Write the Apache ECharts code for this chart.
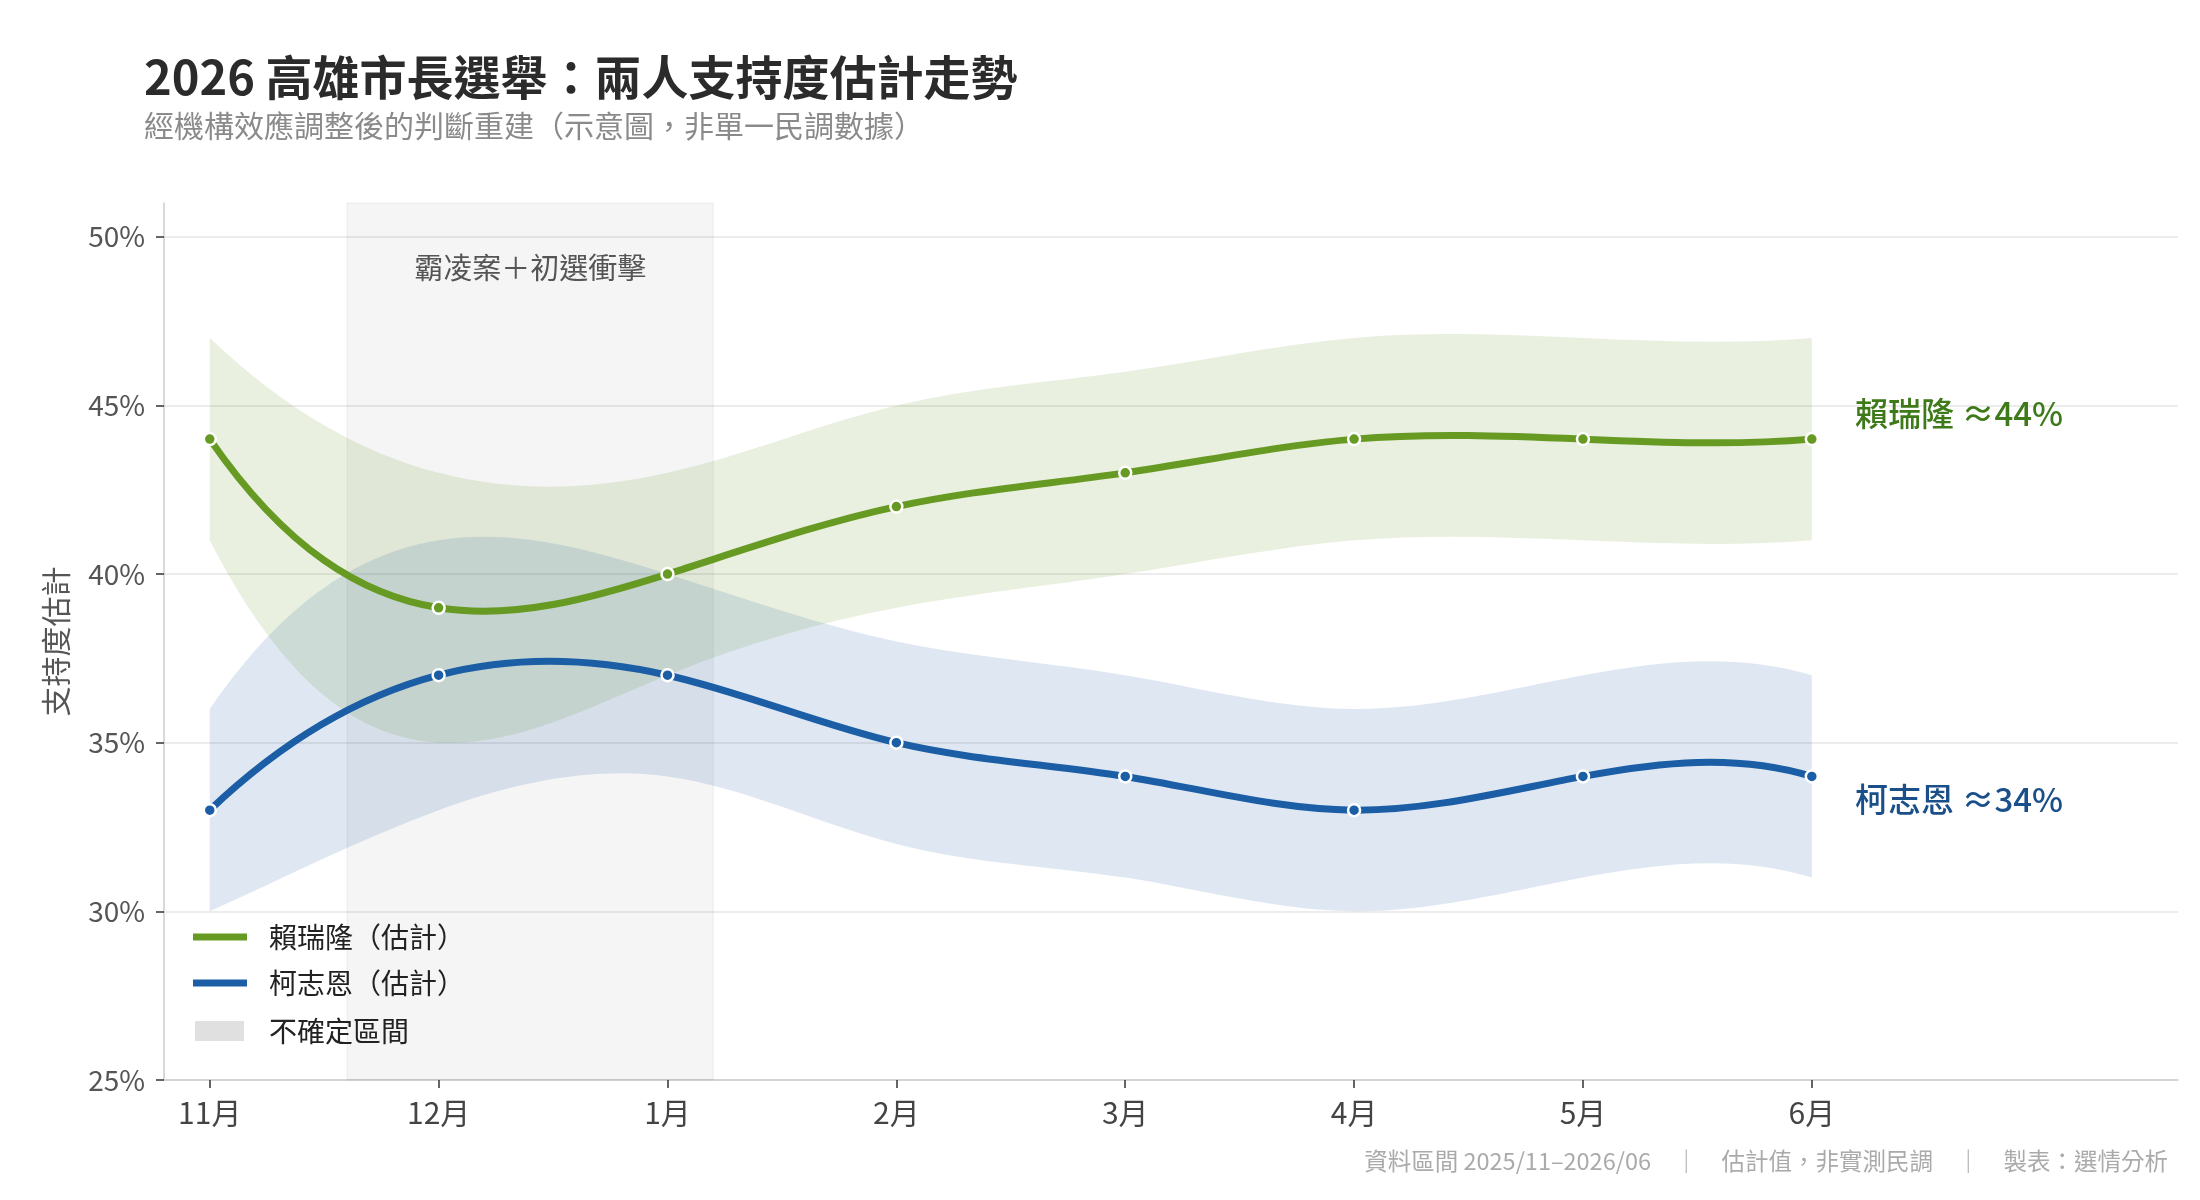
<!DOCTYPE html>
<html>
<head>
<meta charset="utf-8">
<title>2026 高雄市長選舉：兩人支持度估計走勢</title>
<script src="https://cdn.jsdelivr.net/npm/echarts@6/dist/echarts.min.js"></script>
<style>
  html, body { margin: 0; padding: 0; background: #fff; }
  #chart { width: 2200px; height: 1200px; }
</style>
</head>
<body>
<div id="chart"></div>
<script>
// 月份與估計值
const months = ['11月', '12月', '1月', '2月', '3月', '4月', '5月', '6月']
const laiValues = [44, 39, 40, 42, 43, 44, 44, 44]
const koValues = [33, 37, 37, 35, 34, 33, 34, 34]
// 不確定區間上下界
const laiLower = [41, 35, 37, 39, 40, 41, 41, 41]
const laiUpper = [47, 43, 43, 45, 46, 47, 47, 47]
const koLower = [30, 33, 34, 32, 31, 30, 31, 31]
const koUpper = [36, 41, 40, 38, 37, 36, 37, 37]
const yTicks = [25, 30, 35, 40, 45, 50]
const shockSpan = [0.6, 2.2]

const FONT = '"Noto Sans CJK TC", "Noto Sans", sans-serif'
const GREEN = '#679a23'
const BLUE = '#1b5ea6'

const xIdx = months.map((m, i) => i)
const pairs = (vals) => vals.map((v, i) => [i, v])

// cubic spline (not-a-knot) slopes at each point, used only for the curve shape
function splineSlopes(y) {
  const n = y.length
  const A = Array.from({ length: n }, () => new Array(n).fill(0))
  const b = new Array(n).fill(0)
  A[0][0] = 1; A[0][1] = -2; A[0][2] = 1
  for (let i = 1; i < n - 1; i++) {
    A[i][i - 1] = 1; A[i][i] = 4; A[i][i + 1] = 1
    b[i] = 6 * (y[i + 1] - 2 * y[i] + y[i - 1])
  }
  A[n - 1][n - 3] = 1; A[n - 1][n - 2] = -2; A[n - 1][n - 1] = 1
  // gauss elimination
  for (let c = 0; c < n; c++) {
    let p = c
    for (let r = c + 1; r < n; r++) if (Math.abs(A[r][c]) > Math.abs(A[p][c])) p = r
    ;[A[c], A[p]] = [A[p], A[c]]
    ;[b[c], b[p]] = [b[p], b[c]]
    for (let r = c + 1; r < n; r++) {
      const f = A[r][c] / A[c][c]
      for (let k = c; k < n; k++) A[r][k] -= f * A[c][k]
      b[r] -= f * b[c]
    }
  }
  const M = new Array(n).fill(0)
  for (let r = n - 1; r >= 0; r--) {
    let s = b[r]
    for (let k = r + 1; k < n; k++) s -= A[r][k] * M[k]
    M[r] = s / A[r][r]
  }
  return y.map((v, i) => i < n - 1
    ? (y[i + 1] - y[i]) - (2 * M[i] + M[i + 1]) / 6
    : (y[n - 1] - y[n - 2]) + (M[n - 2] + 2 * M[n - 1]) / 6)
}

function curvePath(api, ys, reverse) {
  const d = splineSlopes(ys)
  const n = ys.length
  const pt = (x, y) => { const c = api.coord([x, y]); return c[0].toFixed(2) + ',' + c[1].toFixed(2) }
  let s = ''
  if (!reverse) {
    s += 'M' + pt(0, ys[0])
    for (let i = 0; i < n - 1; i++) {
      s += ' C' + pt(i + 1 / 3, ys[i] + d[i] / 3) + ' ' + pt(i + 2 / 3, ys[i + 1] - d[i + 1] / 3) + ' ' + pt(i + 1, ys[i + 1])
    }
  } else {
    s += ' L' + pt(n - 1, ys[n - 1])
    for (let i = n - 2; i >= 0; i--) {
      s += ' C' + pt(i + 2 / 3, ys[i + 1] - d[i + 1] / 3) + ' ' + pt(i + 1 / 3, ys[i] + d[i] / 3) + ' ' + pt(i, ys[i])
    }
  }
  return s
}

const bandSeries = (lo, hi, color) => ({
  name: '不確定區間',
  type: 'custom',
  data: lo.map((v, i) => [i, v, hi[i]]),
  silent: true,
  z: 2,
  itemStyle: { color: '#e0e0e0' },
  renderItem: (params, api) => {
    if (params.dataIndex !== 0) return null
    return {
      type: 'path',
      shape: { pathData: curvePath(api, hi, false) + curvePath(api, lo, true) + ' Z' },
      style: { fill: color, stroke: 'none' }
    }
  }
})

const curveSeries = (name, vals, color) => ({
  name: name,
  type: 'custom',
  data: pairs(vals),
  silent: true,
  z: 3,
  itemStyle: { color: color },
  renderItem: (params, api) => {
    if (params.dataIndex !== 0) return null
    return {
      type: 'path',
      shape: { pathData: curvePath(api, vals, false) },
      style: { fill: 'none', stroke: color, lineWidth: 7, lineCap: 'round', lineJoin: 'round' }
    }
  }
})

const lastLabel = (vals, color, offsetY) => vals.map((v, i) => {
  if (i !== vals.length - 1) return [i, v]
  return {
    value: [i, v],
    label: {
      show: true,
      position: 'right',
      distance: 36,
      offset: [0, offsetY],
      formatter: (p) => p.seriesName.replace('（估計）', '') + ' ≈' + v + '%',
      color: color,
      fontSize: 33,
      fontWeight: 500,
      fontFamily: FONT
    }
  }
})

const chart = echarts.init(document.getElementById('chart'))

const option = {
  animation: false,
  backgroundColor: '#fff',
  textStyle: { fontFamily: FONT },
  title: [
    {
      text: '2026 高雄市長選舉：兩人支持度估計走勢',
      left: 139,
      top: 49,
      textStyle: { fontSize: 47, fontWeight: 'bold', color: '#2b2b2b', fontFamily: FONT }
    },
    {
      text: '經機構效應調整後的判斷重建（示意圖，非單一民調數據）',
      left: 139,
      top: 106,
      textStyle: { fontSize: 30, fontWeight: 'normal', color: '#8a8a8a', fontFamily: FONT }
    }
  ],
  grid: {
    left: 164,
    right: 22,
    top: 203,
    bottom: 120
  },
  legend: [
    {
      orient: 'vertical',
      left: 188,
      top: 918,
      itemWidth: 54,
      itemHeight: 7,
      itemGap: 18,
      icon: 'rect',
      itemStyle: { borderWidth: 0 },
      data: [
        { name: '賴瑞隆（估計）', itemStyle: { color: GREEN } },
        { name: '柯志恩（估計）', itemStyle: { color: BLUE } }
      ],
      textStyle: { fontSize: 28, color: '#222', padding: [0, 0, 0, 17], fontFamily: FONT }
    },
    {
      orient: 'vertical',
      left: 190,
      top: 1012,
      itemWidth: 49,
      itemHeight: 20,
      icon: 'rect',
      itemStyle: { borderWidth: 0 },
      data: [{ name: '不確定區間', itemStyle: { color: '#e0e0e0' } }],
      textStyle: { fontSize: 28, color: '#222', padding: [0, 0, 0, 20], fontFamily: FONT }
    }
  ],
  xAxis: {
    type: 'value',
    min: -0.2,
    max: 8.6,
    splitLine: { show: false },
    axisLine: { show: true, onZero: false, lineStyle: { color: '#cccccc', width: 1.5 } },
    axisTick: { show: true, customValues: xIdx, length: 8, lineStyle: { color: '#333', width: 1.5 } },
    axisLabel: {
      customValues: xIdx,
      formatter: (v) => months[Math.round(v)],
      fontSize: 30,
      color: '#444',
      margin: 18
    }
  },
  yAxis: {
    type: 'value',
    min: 25,
    max: 51,
    name: '支持度估計',
    nameLocation: 'middle',
    nameGap: 93,
    nameTextStyle: { fontSize: 30, color: '#555', fontFamily: FONT },
    axisLine: { show: true, onZero: false, lineStyle: { color: '#cccccc', width: 1.5 } },
    axisTick: { show: true, customValues: yTicks, length: 8, lineStyle: { color: '#333', width: 1.5 } },
    axisLabel: {
      customValues: yTicks,
      formatter: '{value}%',
      fontSize: 28,
      color: '#555',
      margin: 19
    },
    splitLine: { show: true, lineStyle: { color: '#e6e6e6', width: 1.5 } }
  },
  series: [
    bandSeries(laiLower, laiUpper, 'rgba(103,154,35,0.145)'),
    bandSeries(koLower, koUpper, 'rgba(27,94,166,0.14)'),
    curveSeries('賴瑞隆（估計）', laiValues, GREEN),
    curveSeries('柯志恩（估計）', koValues, BLUE),
    {
      name: '賴瑞隆（估計）',
      type: 'line',
      data: lastLabel(laiValues, '#3f7a1a', -26),
      symbol: 'circle',
      symbolSize: 12,
      showSymbol: true,
      lineStyle: { width: 0, opacity: 0 },
      itemStyle: { color: GREEN, borderColor: '#fff', borderWidth: 2.5 },
      z: 4,
      markArea: {
        silent: true,
        itemStyle: { color: 'rgba(0,0,0,0.04)', borderColor: 'rgba(0,0,0,0.04)', borderWidth: 1.5 },
        label: {
          show: true,
          position: 'insideTop',
          distance: 51,
          fontSize: 29,
          color: '#555',
          fontFamily: FONT
        },
        data: [[
          { name: '霸凌案＋初選衝擊', xAxis: shockSpan[0], yAxis: 51 },
          { xAxis: shockSpan[1], yAxis: 25 }
        ]]
      }
    },
    {
      name: '柯志恩（估計）',
      type: 'line',
      data: lastLabel(koValues, '#1a4f8a', 23),
      symbol: 'circle',
      symbolSize: 12,
      showSymbol: true,
      lineStyle: { width: 0, opacity: 0 },
      itemStyle: { color: BLUE, borderColor: '#fff', borderWidth: 2.5 },
      z: 4
    }
  ],
  graphic: [
    {
      type: 'text',
      right: 32,
      top: 1149,
      style: {
        text: '資料區間 2025/11–2026/06　｜　估計值，非實測民調　｜　製表：選情分析',
        fontSize: 23.5,
        fill: '#aaaaaa',
        fontFamily: FONT
      }
    }
  ]
}

chart.setOption(option)
window.addEventListener('resize', () => chart.resize())
</script>
</body>
</html>
